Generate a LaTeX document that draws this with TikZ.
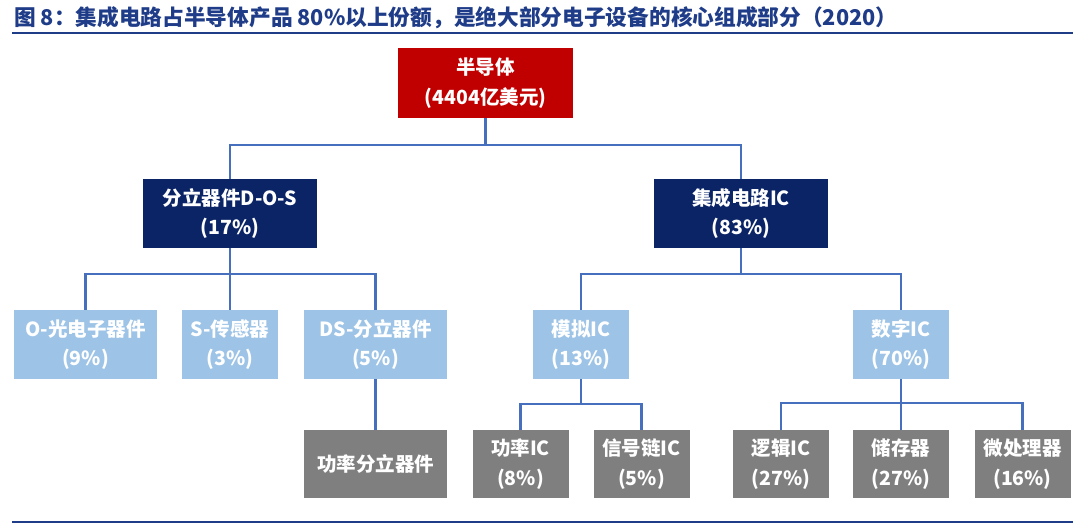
\documentclass[tikz,border=0pt]{standalone}
\usepackage{fontspec}
\setmainfont{Noto Sans CJK SC}
\definecolor{titleblue}{HTML}{1F3C88}
\definecolor{rootred}{HTML}{C00000}
\definecolor{navy}{HTML}{0B2466}
\definecolor{lightblue}{HTML}{9DC3E6}
\definecolor{boxgray}{HTML}{7F7F7F}
\definecolor{connblue}{HTML}{4670BE}
\tikzset{
  box/.style={draw=none, inner sep=0pt, align=center, text=white,
    font=\bfseries\fontsize{19.5}{29.5}\selectfont, minimum height=69pt},
  rootbox/.style={box, fill=rootred, minimum width=175pt, minimum height=70pt},
  lvtwo/.style={box, fill=navy, minimum width=174pt},
  lvthree/.style={box, fill=lightblue},
  lvfour/.style={box, fill=boxgray, minimum height=68pt},
  wide/.style={minimum width=143pt},
  narrow/.style={minimum width=96pt},
  conn/.style={draw=connblue, line width=2.6pt},
  rule/.style={draw=titleblue, line width=2.4pt}
}
\begin{document}
\begin{tikzpicture}[x=1pt,y=-1pt]
\useasboundingbox (0,0) rectangle (1080,529);
\node[anchor=west, text=titleblue, font=\bfseries\fontsize{21.7}{25}\selectfont, inner sep=0pt] (title) at (14,18) {图 8：集成电路占半导体产品 80\%以上份额，是绝大部分电子设备的核心组成部分（2020）};
\draw[rule] (12,33) -- (1073,33);
\draw[rule] (12,522) -- (1073,522);

\node[rootbox] (root) at (485.5,83) {半导体\\(4404亿美元)};
\node[lvtwo] (dos) at (230,213.5) {分立器件D-O-S\\(17\%)};
\node[lvtwo] (ic) at (741,213.5) {集成电路IC\\(83\%)};

\node[lvthree,wide] (opto) at (85.5,344.5) {O-光电子器件\\(9\%)};
\node[lvthree,narrow] (sens) at (230,344.5) {S-传感器\\(3\%)};
\node[lvthree,wide] (disc) at (375.5,344.5) {DS-分立器件\\(5\%)};
\node[lvthree,narrow] (analog) at (581,344.5) {模拟IC\\(13\%)};
\node[lvthree,narrow] (digital) at (901,344.5) {数字IC\\(70\%)};

\node[lvfour,wide] (pdisc) at (375.5,464) {功率分立器件};
\node[lvfour,narrow] (pic) at (520.5,464) {功率IC\\(8\%)};
\node[lvfour,narrow] (sig) at (641.5,464) {信号链IC\\(5\%)};
\node[lvfour,narrow] (logic) at (781,464) {逻辑IC\\(27\%)};
\node[lvfour,narrow] (mem) at (901,464) {储存器\\(27\%)};
\node[lvfour,narrow] (mpu) at (1022.5,464) {微处理器\\(16\%)};

\draw[conn] (root.south) -- ++(0,27) -| (dos.north);
\draw[conn] (root.south) -- ++(0,27) -| (ic.north);

\draw[conn] (dos.south) -- ++(0,26) -| (opto.north);
\draw[conn] (dos.south) -- (sens.north);
\draw[conn] (dos.south) -- ++(0,26) -| (disc.north);

\draw[conn] (ic.south) -- ++(0,26) -| (analog.north);
\draw[conn] (ic.south) -- ++(0,26) -| (digital.north);

\draw[conn] (disc.south) -- (pdisc.north);

\draw[conn] (analog.south) -- ++(0,25) -| (pic.north);
\draw[conn] (analog.south) -- ++(0,25) -| (sig.north);

\draw[conn] (digital.south) -- ++(0,24) -| (logic.north);
\draw[conn] (digital.south) -- (mem.north);
\draw[conn] (digital.south) -- ++(0,24) -| (mpu.north);
\end{tikzpicture}
\end{document}
